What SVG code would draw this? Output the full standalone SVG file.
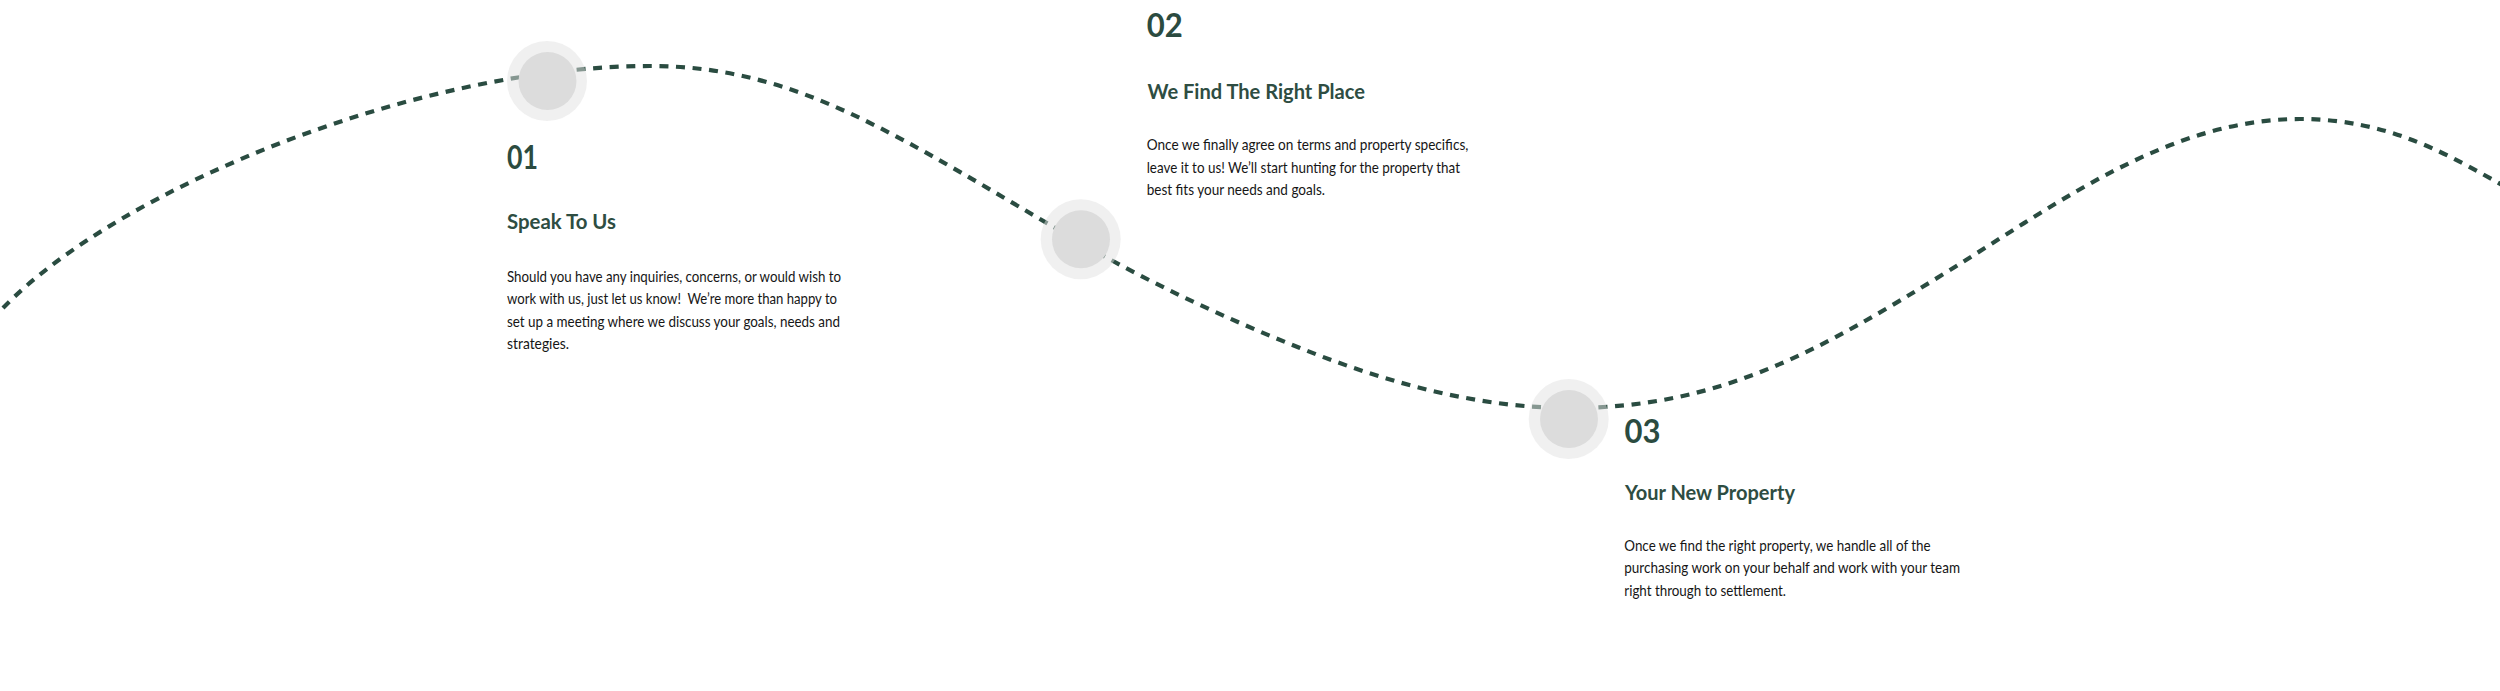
<svg xmlns="http://www.w3.org/2000/svg" width="2500" height="691" viewBox="0 0 2500 691">
<style>
.num{font-family:Lato,"Liberation Sans",sans-serif;font-weight:700;font-size:32px;fill:#2b4b40}
.head{font-family:Lato,"Liberation Sans",sans-serif;font-weight:700;font-size:20.5px;fill:#2e4d42}
.body{font-family:Lato,"Liberation Sans",sans-serif;font-weight:400;font-size:15px;fill:#161616}
.ring{fill:#e2e2e2;fill-opacity:0.5}
.dot{fill:#dcdcdc}
.path{fill:none;stroke:#2a4c41;stroke-width:4.2;stroke-dasharray:9 7.6}
</style>
<rect width="2500" height="691" fill="#ffffff"/>
<g id="connectors">
<path class="path" d="M 3,308 C 120,187 420,66 650,66 C 800,66 901,138.6 1081,243 C 1154,285.3 1227,318.8 1300,348 C 1390,384 1480,408 1570,408 C 1720,408 1820,350.6 1950,270 C 2060,201.8 2170,119 2300,119 C 2390,119 2450,156 2504,186"/>
</g>
<g id="step1">
<circle class="ring" cx="547" cy="81" r="40"/>
<circle class="dot" cx="547.5" cy="81" r="29"/>
<text class="num" x="507" y="169" textLength="31" lengthAdjust="spacingAndGlyphs">01</text>
<text class="head" x="507" y="228.5" textLength="109" lengthAdjust="spacingAndGlyphs">Speak To Us</text>
<text class="body" x="507" y="281.7" textLength="334" lengthAdjust="spacingAndGlyphs">Should you have any inquiries, concerns, or would wish to</text>
<text class="body" x="507" y="304.2" textLength="330" lengthAdjust="spacingAndGlyphs" xml:space="preserve">work with us, just let us know!  We’re more than happy to</text>
<text class="body" x="507" y="326.7" textLength="333" lengthAdjust="spacingAndGlyphs">set up a meeting where we discuss your goals, needs and</text>
<text class="body" x="507" y="349.2" textLength="62" lengthAdjust="spacingAndGlyphs">strategies.</text>
</g>
<g id="step2">
<circle class="ring" cx="1080.7" cy="239.3" r="40"/>
<circle class="dot" cx="1081" cy="239.3" r="29"/>
<text class="num" x="1146.7" y="36.7" textLength="36" lengthAdjust="spacingAndGlyphs">02</text>
<text class="head" x="1147.5" y="99.3" textLength="217.5" lengthAdjust="spacingAndGlyphs">We Find The Right Place</text>
<text class="body" x="1146.7" y="150" textLength="321.7" lengthAdjust="spacingAndGlyphs">Once we finally agree on terms and property specifics,</text>
<text class="body" x="1146.7" y="172.5" textLength="313.3" lengthAdjust="spacingAndGlyphs">leave it to us! We’ll start hunting for the property that</text>
<text class="body" x="1146.7" y="195" textLength="178.3" lengthAdjust="spacingAndGlyphs">best fits your needs and goals.</text>
</g>
<g id="step3">
<circle class="ring" cx="1568.7" cy="419" r="40"/>
<circle class="dot" cx="1569" cy="419" r="29"/>
<text class="num" x="1624.5" y="442.7" textLength="36" lengthAdjust="spacingAndGlyphs">03</text>
<text class="head" x="1625" y="500" textLength="170" lengthAdjust="spacingAndGlyphs">Your New Property</text>
<text class="body" x="1624.3" y="550.7" textLength="306.3" lengthAdjust="spacingAndGlyphs">Once we find the right property, we handle all of the</text>
<text class="body" x="1624.3" y="573.2" textLength="335.7" lengthAdjust="spacingAndGlyphs">purchasing work on your behalf and work with your team</text>
<text class="body" x="1624.3" y="595.7" textLength="161.7" lengthAdjust="spacingAndGlyphs">right through to settlement.</text>
</g>
</svg>
